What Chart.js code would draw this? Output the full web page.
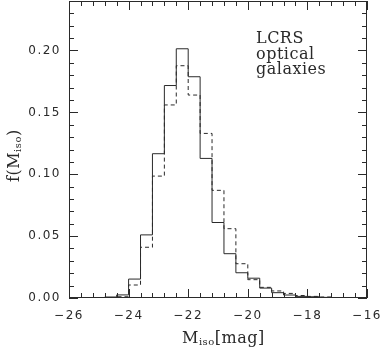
<!DOCTYPE html>
<html>
<head>
<meta charset="utf-8">
<script src="https://cdn.jsdelivr.net/npm/chart.js@4"></script>
<style>
  html, body { margin: 0; padding: 0; background: #fff; }
  #wrap { width: 382px; height: 348px; }
</style>
</head>
<body>
<div id="wrap"><canvas id="chart" width="382" height="348"></canvas></div>
<script>
// ================= DATA =================
// left edges of the 0.4 mag bins, last entry is the right edge of the last bin
const binEdges = [-24.8, -24.4, -24.0, -23.6, -23.2, -22.8, -22.4, -22.0, -21.6, -21.2,
                  -20.8, -20.4, -20.0, -19.6, -19.2, -18.8, -18.4, -18.0, -17.6, -17.2];
// solid histogram
const solidValues = [0.0008, 0.0025, 0.0153, 0.051, 0.1166, 0.1717, 0.2014, 0.1788, 0.1128,
                     0.061, 0.0358, 0.0204, 0.016, 0.008, 0.0043, 0.0024, 0.0013, 0.001, 0.0005];
// dashed histogram
const dashedValues = [0.0004, 0.001, 0.0105, 0.041, 0.0985, 0.156, 0.1877, 0.164, 0.133,
                      0.087, 0.056, 0.0277, 0.0148, 0.0086, 0.0057, 0.0037, 0.002, 0.0013, 0.0008];
const xTicks = [-26, -24, -22, -20, -18, -16];
const yTicks = [0.00, 0.05, 0.10, 0.15, 0.20];
const labelLines = ["LCRS", "optical", "galaxies"];

// build step points: start at 0, each bin left edge, end back at 0
function stepPoints(values) {
    const pts = [{ x: binEdges[0], y: 0 }];
    values.forEach((v, i) => pts.push({ x: binEdges[i], y: v }));
    pts.push({ x: binEdges[binEdges.length - 1], y: 0 });
    return pts;
}

const ink = "#2a2a2a";

// ================= FRAME + INNER TICKS + TEXT =================
const framePlugin = {
    id: "frame",
    beforeDraw(chart) {
        chart.ctx.letterSpacing = "1.5px";
    },
    afterDraw(chart) {
        const ctx = chart.ctx;
        const a = chart.chartArea;
        const xs = chart.scales.x;
        const ys = chart.scales.y;
        ctx.save();
        ctx.letterSpacing = "0px";
        ctx.strokeStyle = ink;
        ctx.lineWidth = 1;
        ctx.strokeRect(a.left + 0.5, a.top + 0.5, a.right - a.left - 1, a.bottom - a.top - 1);

        ctx.beginPath();
        // x ticks every 0.4, major every 2
        for (let k = 0; k <= 25; k++) {
            const v = -26 + k * 0.4;
            const px = Math.round(xs.getPixelForValue(v)) + 0.5;
            const len = (k % 5 === 0) ? 9 : 5;
            ctx.moveTo(px, a.bottom); ctx.lineTo(px, a.bottom - len);
            ctx.moveTo(px, a.top); ctx.lineTo(px, a.top + len);
        }
        // y ticks every 0.01, major every 0.05
        for (let k = 0; k <= 24; k++) {
            const py = Math.round(ys.getPixelForValue(k * 0.01)) + 0.5;
            const len = (k % 5 === 0) ? 9 : 5;
            ctx.moveTo(a.left, py); ctx.lineTo(a.left + len, py);
            ctx.moveTo(a.right, py); ctx.lineTo(a.right - len, py);
        }
        ctx.stroke();

        ctx.fillStyle = ink;
        ctx.textBaseline = "alphabetic";

        // legend text
        ctx.font = "16px 'DejaVu Serif'";
        ctx.letterSpacing = "0.5px";
        ctx.textAlign = "left";
        labelLines.forEach((t, i) => ctx.fillText(t, 256, 43 + i * 15.5));

        // x title M_iso[mag]
        const bigFont = "16px 'DejaVu Serif'";
        const subFont = "10px 'DejaVu Serif'";
        let x = 182, base = 343;
        ctx.font = bigFont; ctx.fillText("M", x, base); x += ctx.measureText("M").width;
        ctx.font = subFont; ctx.fillText("iso", x, base + 2); x += ctx.measureText("iso").width;
        ctx.font = bigFont; ctx.fillText("[mag]", x, base);

        // y title f(M_iso)
        ctx.save();
        ctx.translate(19, 182);
        ctx.rotate(-Math.PI / 2);
        x = 0;
        ctx.font = bigFont; ctx.fillText("f(M", x, 0); x += ctx.measureText("f(M").width;
        ctx.font = subFont; ctx.fillText("iso", x, 2); x += ctx.measureText("iso").width;
        ctx.font = bigFont; ctx.fillText(")", x, 0);
        ctx.restore();

        ctx.restore();
    }
};

const ctx = document.getElementById("chart").getContext("2d");

new Chart(ctx, {
    type: "line",
    data: {
        datasets: [{
            label: "solid",
            data: stepPoints(solidValues),
            stepped: "before",
            borderColor: ink,
            borderWidth: 1,
            pointRadius: 0,
            fill: false
        }, {
            label: "dashed",
            data: stepPoints(dashedValues),
            stepped: "before",
            borderColor: ink,
            borderWidth: 1,
            borderDash: [4, 3],
            pointRadius: 0,
            fill: false
        }]
    },
    options: {
        responsive: false,
        animation: false,
        events: [],
        layout: { padding: { top: 1, right: 15, left: 0, bottom: 0 } },
        plugins: {
            legend: { display: false },
            tooltip: { enabled: false }
        },
        scales: {
            x: {
                type: "linear",
                min: -26,
                max: -16,
                afterFit: s => { s.height = 50; s.paddingLeft = 0; s.paddingRight = 0; },
                afterBuildTicks: s => { s.ticks = xTicks.map(v => ({ value: v })); },
                grid: { display: false, drawTicks: false },
                border: { display: false },
                ticks: {
                    color: ink,
                    padding: 11,
                    maxRotation: 0,
                    font: { family: "'DejaVu Sans'", size: 12 },
                    callback: v => (v < 0 ? "\u2212" : "") + Math.abs(v)
                }
            },
            y: {
                min: 0,
                max: 0.24,
                afterFit: s => { s.width = 69; s.paddingTop = 0; s.paddingBottom = 0; },
                afterBuildTicks: s => { s.ticks = yTicks.map(v => ({ value: v })); },
                grid: { display: false, drawTicks: false },
                border: { display: false },
                ticks: {
                    color: ink,
                    padding: 8,
                    font: { family: "'DejaVu Sans'", size: 12 },
                    callback: v => v.toFixed(2)
                }
            }
        }
    },
    plugins: [framePlugin]
});
</script>
</body>
</html>
